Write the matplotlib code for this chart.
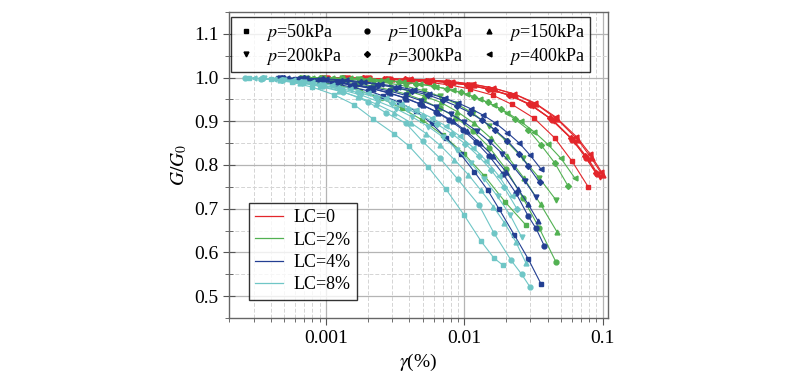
import matplotlib
matplotlib.use("Agg")
import matplotlib.pyplot as plt
from matplotlib.lines import Line2D
from matplotlib.ticker import FixedLocator, LogLocator, NullFormatter, MultipleLocator

plt.rcParams["font.family"] = ["Liberation Serif", "DejaVu Serif"]
plt.rcParams["mathtext.fontset"] = "stix"

pressures = ["50", "100", "150", "200", "300", "400"]
markers = ["s", "o", "^", "v", "D", "<"]
lc_labels = ["LC=0", "LC=2%", "LC=4%", "LC=8%"]
lc_colors = ["#e3262b", "#52b152", "#233f92", "#6fc6c6"]

# LC = 0
x_lc0_p50 = [0.001, 0.0014, 0.002, 0.0028, 0.004, 0.0056, 0.0079, 0.011, 0.016, 0.022, 0.032, 0.045, 0.060, 0.079]
y_lc0_p50 = [0.999, 0.998, 0.997, 0.996, 0.993, 0.989, 0.983, 0.974, 0.960, 0.939, 0.907, 0.862, 0.809, 0.749]
x_lc0_p100 = [0.00096, 0.00135, 0.0019, 0.0027, 0.0038, 0.0054, 0.0076, 0.0107, 0.0151, 0.0214, 0.0302, 0.0427, 0.0603, 0.0759, 0.0912]
y_lc0_p100 = [0.999, 0.999, 0.998, 0.997, 0.995, 0.993, 0.989, 0.983, 0.973, 0.959, 0.937, 0.904, 0.858, 0.817, 0.779]
x_lc0_p150 = [0.00105, 0.00148, 0.0021, 0.003, 0.0042, 0.0059, 0.0083, 0.0117, 0.0166, 0.0234, 0.0331, 0.0468, 0.0661, 0.0832, 0.100]
y_lc0_p150 = [0.999, 0.999, 0.998, 0.997, 0.996, 0.994, 0.990, 0.984, 0.975, 0.961, 0.939, 0.905, 0.858, 0.815, 0.776]
x_lc0_p200 = [0.001, 0.00141, 0.002, 0.00282, 0.00398, 0.00562, 0.00794, 0.0112, 0.0158, 0.0224, 0.0316, 0.0447, 0.0631, 0.0794, 0.0955]
y_lc0_p200 = [0.999, 0.998, 0.998, 0.996, 0.995, 0.992, 0.988, 0.982, 0.972, 0.957, 0.934, 0.900, 0.853, 0.812, 0.772]
x_lc0_p300 = [0.00093, 0.00132, 0.00186, 0.00263, 0.00372, 0.00525, 0.0074, 0.0105, 0.0148, 0.0209, 0.0295, 0.0417, 0.0589, 0.0741, 0.089]
y_lc0_p300 = [0.999, 0.999, 0.998, 0.997, 0.996, 0.993, 0.990, 0.984, 0.975, 0.961, 0.940, 0.907, 0.862, 0.821, 0.782]
x_lc0_p400 = [0.00102, 0.00145, 0.00204, 0.00288, 0.00407, 0.00575, 0.0081, 0.0115, 0.0162, 0.0229, 0.0324, 0.0457, 0.0646, 0.0813, 0.0977]
y_lc0_p400 = [0.999, 0.999, 0.998, 0.997, 0.996, 0.994, 0.991, 0.985, 0.976, 0.963, 0.942, 0.910, 0.865, 0.825, 0.785]

# LC = 2%
x_lc2_p50 = [0.000627, 0.000885, 0.00125, 0.00177, 0.00249, 0.00352, 0.00498, 0.00703, 0.00993, 0.014, 0.0198, 0.028]
y_lc2_p50 = [0.995, 0.990, 0.982, 0.970, 0.953, 0.930, 0.903, 0.868, 0.826, 0.775, 0.715, 0.662]
x_lc2_p100 = [0.00073, 0.00096, 0.00127, 0.00167, 0.0022, 0.0029, 0.00383, 0.00505, 0.00665, 0.00877, 0.01156, 0.0152, 0.0201, 0.0265, 0.0349, 0.046]
y_lc2_p100 = [0.998, 0.995, 0.991, 0.986, 0.980, 0.972, 0.962, 0.948, 0.930, 0.908, 0.878, 0.840, 0.790, 0.725, 0.655, 0.578]
x_lc2_p150 = [0.00075, 0.00098, 0.0013, 0.0017, 0.00225, 0.003, 0.0039, 0.0051, 0.0068, 0.0089, 0.0118, 0.0155, 0.0205, 0.027, 0.0356, 0.047]
y_lc2_p150 = [0.999, 0.998, 0.995, 0.991, 0.986, 0.979, 0.970, 0.958, 0.943, 0.922, 0.895, 0.862, 0.820, 0.770, 0.710, 0.646]
x_lc2_p200 = [0.00068, 0.00095, 0.0013, 0.0017, 0.0022, 0.0029, 0.0038, 0.0051, 0.0067, 0.0088, 0.0116, 0.0152, 0.0201, 0.0265, 0.0349, 0.046]
y_lc2_p200 = [0.999, 0.999, 0.998, 0.996, 0.992, 0.987, 0.980, 0.970, 0.957, 0.940, 0.918, 0.890, 0.855, 0.815, 0.770, 0.720]
x_lc2_p300 = [0.00065, 0.0009, 0.0013, 0.0018, 0.0025, 0.0034, 0.0045, 0.006, 0.0075, 0.0094, 0.0118, 0.0148, 0.0185, 0.0232, 0.029, 0.036, 0.045, 0.056]
y_lc2_p300 = [1.0, 0.999, 0.998, 0.996, 0.993, 0.990, 0.986, 0.980, 0.974, 0.966, 0.956, 0.943, 0.927, 0.905, 0.881, 0.845, 0.805, 0.753]
x_lc2_p400 = [0.0008, 0.0011, 0.0015, 0.002, 0.0027, 0.0036, 0.0048, 0.0063, 0.0083, 0.0104, 0.013, 0.0163, 0.0204, 0.0255, 0.032, 0.040, 0.050, 0.063]
y_lc2_p400 = [1.0, 0.999, 0.998, 0.997, 0.994, 0.990, 0.985, 0.979, 0.971, 0.962, 0.951, 0.937, 0.920, 0.900, 0.876, 0.848, 0.815, 0.770]

# LC = 4%
x_lc4_p50 = [0.00045, 0.0006, 0.0008, 0.0011, 0.0015, 0.002, 0.0026, 0.0034, 0.0045, 0.0058, 0.0074, 0.0094, 0.0118, 0.0148, 0.0178, 0.023, 0.029, 0.036]
y_lc4_p50 = [0.998, 0.996, 0.992, 0.987, 0.979, 0.970, 0.958, 0.943, 0.923, 0.895, 0.862, 0.825, 0.785, 0.742, 0.700, 0.640, 0.585, 0.527]
x_lc4_p100 = [0.00048, 0.00065, 0.0009, 0.0012, 0.0016, 0.0021, 0.0028, 0.0037, 0.0048, 0.0062, 0.0078, 0.0098, 0.0122, 0.0152, 0.019, 0.0237, 0.029, 0.033, 0.038]
y_lc4_p100 = [0.998, 0.996, 0.993, 0.989, 0.983, 0.976, 0.966, 0.954, 0.940, 0.922, 0.903, 0.880, 0.852, 0.820, 0.780, 0.735, 0.683, 0.655, 0.614]
x_lc4_p150 = [0.00048, 0.00066, 0.0009, 0.0012, 0.0016, 0.0022, 0.0029, 0.0038, 0.005, 0.0065, 0.0083, 0.0104, 0.013, 0.0162, 0.020, 0.0245, 0.029, 0.034]
y_lc4_p150 = [0.998, 0.996, 0.993, 0.988, 0.982, 0.974, 0.964, 0.952, 0.937, 0.920, 0.900, 0.877, 0.850, 0.820, 0.785, 0.745, 0.710, 0.673]
x_lc4_p200 = [0.00047, 0.00065, 0.0009, 0.0012, 0.0016, 0.0022, 0.0029, 0.0038, 0.0049, 0.0063, 0.008, 0.010, 0.0124, 0.0153, 0.0188, 0.0228, 0.0275, 0.033]
y_lc4_p200 = [0.999, 0.997, 0.994, 0.990, 0.984, 0.977, 0.969, 0.959, 0.947, 0.933, 0.917, 0.898, 0.877, 0.853, 0.826, 0.795, 0.763, 0.726]
x_lc4_p300 = [0.0005, 0.0007, 0.00095, 0.0013, 0.0018, 0.0024, 0.0032, 0.0042, 0.0055, 0.007, 0.0088, 0.011, 0.0135, 0.0166, 0.0204, 0.025, 0.029, 0.035]
y_lc4_p300 = [0.999, 0.998, 0.996, 0.993, 0.989, 0.984, 0.977, 0.969, 0.960, 0.948, 0.935, 0.920, 0.902, 0.881, 0.856, 0.826, 0.797, 0.760]
x_lc4_p400 = [0.00052, 0.00072, 0.001, 0.0014, 0.0019, 0.0025, 0.0033, 0.0043, 0.0056, 0.0072, 0.009, 0.0111, 0.0137, 0.0168, 0.0205, 0.025, 0.030, 0.036]
y_lc4_p400 = [0.999, 0.998, 0.997, 0.994, 0.990, 0.985, 0.979, 0.972, 0.963, 0.953, 0.942, 0.929, 0.914, 0.896, 0.874, 0.850, 0.822, 0.790]

# LC = 8%
x_lc8_p50 = [0.00028, 0.0004, 0.00057, 0.0008, 0.00114, 0.0016, 0.0022, 0.0031, 0.004, 0.0055, 0.0074, 0.010, 0.0132, 0.0164, 0.019]
y_lc8_p50 = [0.999, 0.996, 0.989, 0.978, 0.961, 0.938, 0.905, 0.872, 0.843, 0.795, 0.744, 0.685, 0.626, 0.587, 0.571]
x_lc8_p100 = [0.00026, 0.00034, 0.00048, 0.00068, 0.00095, 0.00133, 0.002, 0.0027, 0.0038, 0.005, 0.0067, 0.009, 0.0128, 0.0164, 0.0218, 0.026, 0.030]
y_lc8_p100 = [0.999, 0.997, 0.994, 0.988, 0.980, 0.968, 0.945, 0.920, 0.895, 0.854, 0.815, 0.767, 0.708, 0.644, 0.582, 0.550, 0.520]
x_lc8_p150 = [0.00034, 0.00047, 0.00065, 0.0009, 0.00125, 0.0017, 0.0023, 0.0031, 0.0041, 0.0053, 0.0067, 0.0085, 0.0107, 0.0132, 0.0162, 0.0195, 0.0235, 0.028]
y_lc8_p150 = [0.998, 0.994, 0.988, 0.980, 0.969, 0.956, 0.940, 0.920, 0.897, 0.872, 0.845, 0.812, 0.778, 0.742, 0.705, 0.668, 0.625, 0.575]
x_lc8_p200 = [0.00036, 0.0005, 0.0007, 0.00095, 0.0013, 0.0018, 0.0024, 0.0032, 0.0042, 0.0055, 0.007, 0.0089, 0.0112, 0.014, 0.0174, 0.0215, 0.026]
y_lc8_p200 = [0.998, 0.994, 0.989, 0.982, 0.972, 0.960, 0.945, 0.929, 0.910, 0.888, 0.864, 0.835, 0.804, 0.768, 0.728, 0.685, 0.635]
x_lc8_p300 = [0.00035, 0.00048, 0.00066, 0.0009, 0.00125, 0.0017, 0.0023, 0.003, 0.0039, 0.005, 0.0064, 0.0081, 0.0102, 0.0127, 0.0157, 0.0194, 0.024]
y_lc8_p300 = [0.998, 0.995, 0.990, 0.984, 0.976, 0.966, 0.955, 0.942, 0.928, 0.912, 0.893, 0.872, 0.848, 0.820, 0.788, 0.749, 0.700]
x_lc8_p400 = [0.0003, 0.00042, 0.00058, 0.0008, 0.0011, 0.0015, 0.002, 0.0027, 0.0035, 0.0045, 0.0058, 0.0074, 0.0093, 0.0116, 0.0144, 0.0178, 0.022]
y_lc8_p400 = [0.999, 0.997, 0.994, 0.989, 0.983, 0.975, 0.965, 0.953, 0.940, 0.925, 0.908, 0.889, 0.866, 0.840, 0.810, 0.775, 0.730]

series = [
    [(x_lc0_p50, y_lc0_p50), (x_lc0_p100, y_lc0_p100), (x_lc0_p150, y_lc0_p150),
     (x_lc0_p200, y_lc0_p200), (x_lc0_p300, y_lc0_p300), (x_lc0_p400, y_lc0_p400)],
    [(x_lc2_p50, y_lc2_p50), (x_lc2_p100, y_lc2_p100), (x_lc2_p150, y_lc2_p150),
     (x_lc2_p200, y_lc2_p200), (x_lc2_p300, y_lc2_p300), (x_lc2_p400, y_lc2_p400)],
    [(x_lc4_p50, y_lc4_p50), (x_lc4_p100, y_lc4_p100), (x_lc4_p150, y_lc4_p150),
     (x_lc4_p200, y_lc4_p200), (x_lc4_p300, y_lc4_p300), (x_lc4_p400, y_lc4_p400)],
    [(x_lc8_p50, y_lc8_p50), (x_lc8_p100, y_lc8_p100), (x_lc8_p150, y_lc8_p150),
     (x_lc8_p200, y_lc8_p200), (x_lc8_p300, y_lc8_p300), (x_lc8_p400, y_lc8_p400)],
]

fig = plt.figure(figsize=(8.04, 3.75), dpi=100)
ax = fig.add_axes([0.285, 0.152, 0.471, 0.816])

for color, curves in zip(lc_colors, series):
    for m, (x, y) in zip(markers, curves):
        ms = 3.0 if m == "D" else 3.5
        ax.plot(x, y, color=color, lw=0.8, marker=m, ms=ms, mec=color, mfc=color, zorder=3)

ax.set_xscale("log")
ax.set_xlim(2.0e-4, 0.109)
ax.set_ylim(0.45, 1.15)

ax.xaxis.set_major_locator(FixedLocator([0.001, 0.01, 0.1]))
ax.set_xticklabels(["0.001", "0.01", "0.1"])
ax.xaxis.set_minor_locator(LogLocator(base=10, subs=range(2, 10)))
ax.xaxis.set_minor_formatter(NullFormatter())
ax.yaxis.set_major_locator(FixedLocator([0.5, 0.6, 0.7, 0.8, 0.9, 1.0, 1.1]))
ax.set_yticklabels(["0.5", "0.6", "0.7", "0.8", "0.9", "1.0", "1.1"])
ax.yaxis.set_minor_locator(MultipleLocator(0.05))

ax.grid(True, which="major", color="#b4b4b4", lw=0.9, ls="-", zorder=0)
ax.grid(True, which="minor", color="#d4d4d4", lw=0.7, ls=(0, (4, 2)), zorder=0)
ax.set_axisbelow(True)

for s in ax.spines.values():
    s.set_color("#666666")
    s.set_linewidth(1.0)
ax.tick_params(axis="both", which="major", labelsize=14, direction="out", length=5,
               color="#555555", top=False, right=False)
ax.tick_params(axis="y", which="major", direction="inout", length=8)
ax.tick_params(axis="both", which="minor", direction="out", length=3,
               color="#555555", top=False, right=False)
ax.tick_params(axis="y", which="minor", direction="inout", length=6)

ax.set_xlabel(r"$\gamma$(%)", fontsize=14, labelpad=4)
ax.set_ylabel(r"$G/G_0$", fontsize=14, labelpad=4)

# legend fills column by column, so interleave to get rows 50/100/150 and 200/300/400
order = [0, 3, 1, 4, 2, 5]
p_handles = [Line2D([], [], color="black", marker=markers[i], ls="none",
                    ms=3.5 if markers[i] != "D" else 3.0) for i in order]
p_labels = [r"$p$=" + pressures[i] + "kPa" for i in order]
leg1 = ax.legend(p_handles, p_labels, ncol=3, loc="upper center", bbox_to_anchor=(0.48, 0.997),
                 fontsize=13, frameon=True, fancybox=False, edgecolor="black",
                 handlelength=1.0, handletextpad=0.6, columnspacing=0.9,
                 borderpad=0.3, labelspacing=0.15, borderaxespad=0.2)
leg1.get_frame().set_linewidth(1.0)
ax.add_artist(leg1)

lc_handles = [Line2D([], [], color=c, lw=0.9) for c in lc_colors]
leg2 = ax.legend(lc_handles, lc_labels, loc="lower left", bbox_to_anchor=(0.029, 0.03),
                 fontsize=13, frameon=True, fancybox=False, edgecolor="black",
                 handlelength=1.5, handletextpad=0.6, borderpad=0.35, labelspacing=0.3)
leg2.get_frame().set_linewidth(1.0)

fig.savefig("out.png", dpi=100)
